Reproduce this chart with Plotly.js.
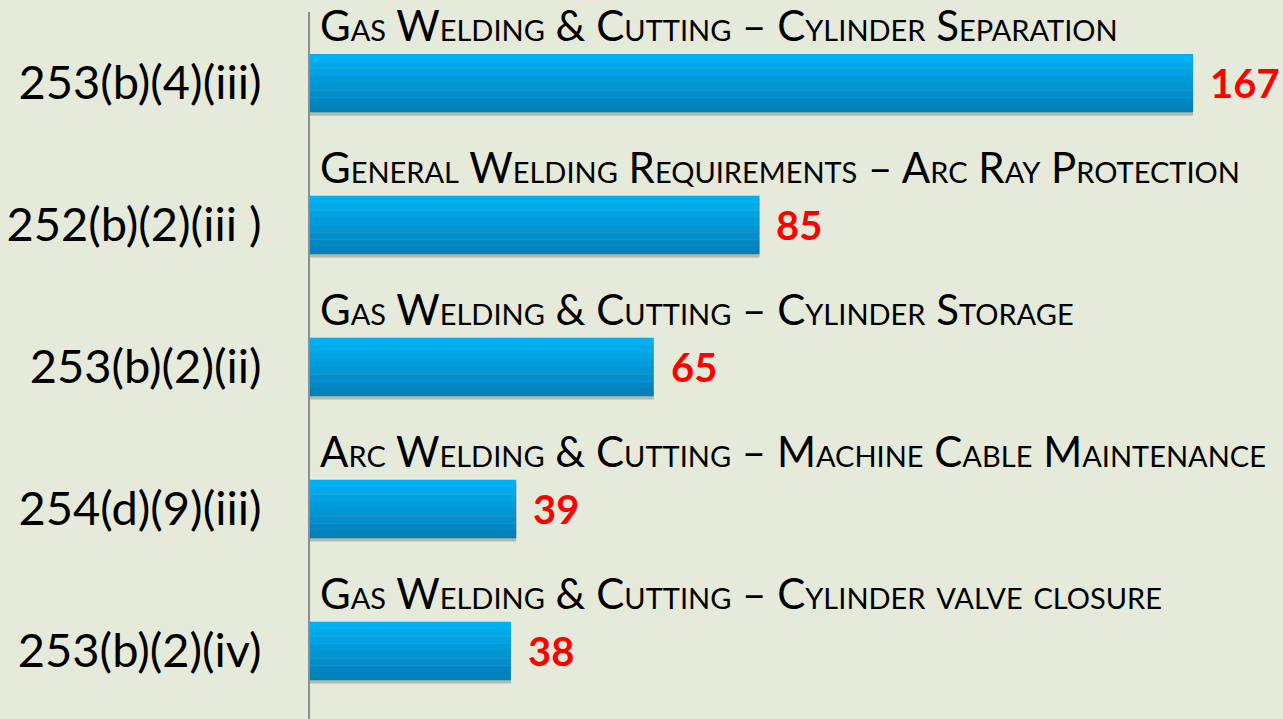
<!DOCTYPE html>
<html><head><meta charset="utf-8">
<script src="https://cdn.plot.ly/plotly-3.0.1.min.js"></script>
<style>html,body{margin:0;padding:0;background:#e5eadb;}#chart{width:1283px;height:719px;}</style>
</head><body><div id="chart"></div>
<script>
const codes = ["253(b)(4)(iii)", "252(b)(2)(iii )", "253(b)(2)(ii)", "254(d)(9)(iii)", "253(b)(2)(iv)"];
const descriptions = [
  "Gas Welding & Cutting – Cylinder Separation",
  "General Welding Requirements – Arc Ray Protection",
  "Gas Welding & Cutting – Cylinder Storage",
  "Arc Welding & Cutting – Machine Cable Maintenance",
  "Gas Welding & Cutting – Cylinder valve closure"
];
const counts = [167, 85, 65, 39, 38];

const barW = 0.41;
const nBands = 8;
const topCol = [0, 176, 242], botCol = [2, 128, 186];
const traces = [];
// shadow
traces.push({type:'bar', orientation:'h', y:codes, x:counts, width:barW, offset:-barW/2+0.025,
  marker:{color:'rgba(90,100,80,0.35)', line:{width:0}}, hoverinfo:'skip', showlegend:false});
for (let i = 0; i < nBands; i++) {
  const t = i/(nBands-1);
  const c = topCol.map((v,k)=>Math.round(v+(botCol[k]-v)*t));
  traces.push({type:'bar', orientation:'h', y:codes, x:counts, width:barW/nBands+0.002,
    offset:-barW/2 + i*barW/nBands,
    marker:{color:`rgb(${c[0]},${c[1]},${c[2]})`, line:{width:0}}, hoverinfo:'skip', showlegend:false});
}

const annotations = [];
codes.forEach((c,i)=>{
  annotations.push({x:0, y:c, xref:'x', yref:'y', text:descriptions[i], showarrow:false,
    xanchor:'left', yanchor:'middle', xshift:8, yshift:58,
    font:{family:'Lato, sans-serif', size:42, color:'#000', variant:'small-caps'}});
  annotations.push({x:counts[i], y:c, xref:'x', yref:'y', text:String(counts[i]), showarrow:false,
    xanchor:'left', yanchor:'middle', xshift:15, yshift:0,
    font:{family:'Lato, sans-serif', size:40, color:'#ff0000', weight:'bold'}});
});

const layout = {
  width:1283, height:719,
  paper_bgcolor:'#e5eadb', plot_bgcolor:'#e5eadb',
  margin:{l:310, r:0, t:12, b:0},
  barmode:'overlay',
  showlegend:false,
  xaxis:{range:[0,184], showgrid:false, zeroline:false, showticklabels:false, showline:false},
  yaxis:{type:'category', range:[4.48,-0.5], showgrid:false, zeroline:false, showline:true,
    linecolor:'#8e8e8e', linewidth:2, ticks:'', ticklabelstandoff:37,
    tickfont:{family:'Lato, sans-serif', size:47, color:'#000'}},
  annotations:annotations
};
Plotly.newPlot('chart', traces, layout, {displayModeBar:false, staticPlot:true});
</script></body></html>
